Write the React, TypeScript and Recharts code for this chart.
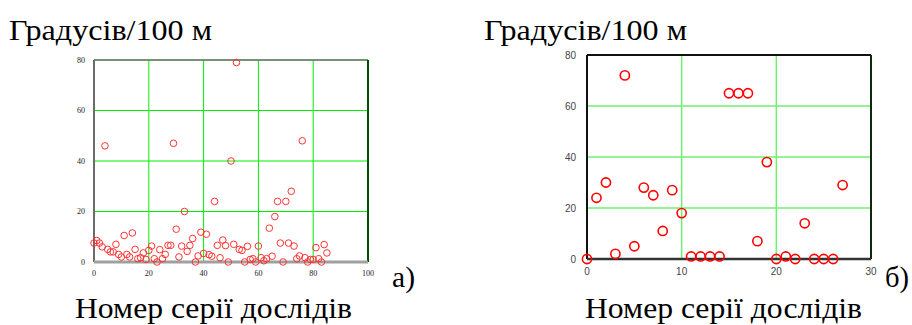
import {
  ScatterChart,
  Scatter,
  XAxis,
  YAxis,
  CartesianGrid,
  ReferenceLine,
} from "recharts";

// а) degrees per 100 m, one value per test series (series number = index)
const seriesA = [
  7.5, 8.5, 7.5, 6, 46, 5, 4, 4, 7, 3,
  2, 10.5, 3, 2, 11.5, 5, 1.3, 1.7, 3.6, 1,
  4.6, 6.3, 1.3, 0, 4.9, 1.3, 3, 6.6, 6.6, 47,
  13, 2, 6.3, 20, 4.2, 6.6, 9.3, 0, 2.4, 11.8,
  3.4, 11, 2.9, 2.3, 24, 6.6, 1.7, 8.7, 6.5, 0,
  40, 7, 79, 5, 4.6, 0, 6.2, 1, 1.3, 0,
  6.3, 1.7, 0.5, 1.3, 13.4, 2.3, 18, 24, 7.5, 0,
  24, 7.5, 28, 6.3, 1.3, 2.4, 48, 1.7, 0, 1,
  1, 5.7, 1.3, 0, 6.9, 3.6,
];

// б) the second set of series
const seriesB = [
  0, 24, 30, 2, 72, 5, 28, 25, 11, 27,
  18, 1, 1, 1, 1, 65, 65, 65, 7, 38,
  0, 1, 0, 14, 0, 0, 0, 29,
];

const ticksAX = [0, 20, 40, 60, 80, 100];
const ticksBX = [0, 10, 20, 30];
const ticksY = [0, 20, 40, 60, 80];

const yLabel = "Градусів/100 м";
const xLabel = "Номер серії дослідів";

const dataA = seriesA.map((y, i) => ({ x: i, y }));
const dataB = seriesB.map((y, i) => ({ x: i, y }));

const serif =
  '"Liberation Serif", "Times New Roman", "DejaVu Serif", "Noto Serif", "FreeSerif", serif';

const tickA = { fontSize: 8, fill: "#222", fontFamily: serif };
const tickB = { fontSize: 10, fill: "#444", fontFamily: '"Liberation Sans", Arial, sans-serif' };

function RingA(p: any) {
  return <circle cx={p.cx} cy={p.cy} r={3.3} fill="none" stroke="#ff3333" strokeWidth={1} />;
}

function RingB(p: any) {
  return <circle cx={p.cx} cy={p.cy} r={4.6} fill="none" stroke="#ff0000" strokeWidth={1.6} />;
}

export default function App() {
  return (
    <div style={{ position: "absolute", left: 0, top: 0, width: 912, height: 325, background: "#fff" }}>
      <div style={{ position: "absolute", left: 60, top: 50 }}>
        <ScatterChart width={320} height={230} margin={{ top: 10, right: 12, bottom: 4, left: 4 }}>
          <CartesianGrid stroke="#00ee00" strokeWidth={1} />
          <XAxis
            type="number"
            dataKey="x"
            domain={[0, 100]}
            ticks={ticksAX}
            tick={tickA}
            axisLine={false}
            tickLine={false}
            height={14}
            tickMargin={2}
            interval={0}
          />
          <YAxis
            type="number"
            dataKey="y"
            domain={[0, 80]}
            ticks={ticksY}
            tick={tickA}
            axisLine={false}
            tickLine={false}
            width={30}
            tickMargin={3}
            interval={0}
          />
          <ReferenceLine y={80} stroke="#707070" strokeWidth={1.5} />
          <ReferenceLine x={100} stroke="#005000" strokeWidth={2} />
          <ReferenceLine x={0} stroke="#6a6a6a" strokeWidth={2} />
          <ReferenceLine y={0} stroke="#a0a0a0" strokeWidth={3} />
          <Scatter data={dataA} shape={RingA} isAnimationActive={false} />
        </ScatterChart>
      </div>

      <div style={{ position: "absolute", left: 550, top: 40 }}>
        <ScatterChart width={340} height={240} margin={{ top: 15, right: 19, bottom: 5, left: 7 }}>
          <CartesianGrid stroke="#70f070" strokeWidth={1.5} />
          <XAxis
            type="number"
            dataKey="x"
            domain={[0, 30]}
            ticks={ticksBX}
            tick={tickB}
            axisLine={false}
            tickLine={false}
            height={16}
            tickMargin={3}
            interval={0}
          />
          <YAxis
            type="number"
            dataKey="y"
            domain={[0, 80]}
            ticks={ticksY}
            tick={tickB}
            axisLine={false}
            tickLine={false}
            width={30}
            tickMargin={5}
            interval={0}
          />
          <ReferenceLine y={80} stroke="#111" strokeWidth={2} />
          <ReferenceLine x={30} stroke="#0a2a0a" strokeWidth={2} />
          <ReferenceLine x={0} stroke="#111" strokeWidth={2} />
          <ReferenceLine y={0} stroke="#333" strokeWidth={2.5} />
          <Scatter data={dataB} shape={RingB} isAnimationActive={false} />
        </ScatterChart>
      </div>

      <svg
        width={912}
        height={325}
        style={{ position: "absolute", left: 0, top: 0, pointerEvents: "none" }}
      >
        <g fill="#000" fontSize={30} fontFamily={serif}>
          <text x={9} y={40} textLength={203} lengthAdjust="spacingAndGlyphs">{yLabel}</text>
          <text x={484} y={40} textLength={203} lengthAdjust="spacingAndGlyphs">{yLabel}</text>
          <text x={75} y={318} textLength={277} lengthAdjust="spacingAndGlyphs">{xLabel}</text>
          <text x={585} y={318} textLength={277} lengthAdjust="spacingAndGlyphs">{xLabel}</text>
          <text x={392} y={287} textLength={23} lengthAdjust="spacingAndGlyphs">а)</text>
          <text x={885} y={287} textLength={24} lengthAdjust="spacingAndGlyphs">б)</text>
        </g>
      </svg>
    </div>
  );
}
